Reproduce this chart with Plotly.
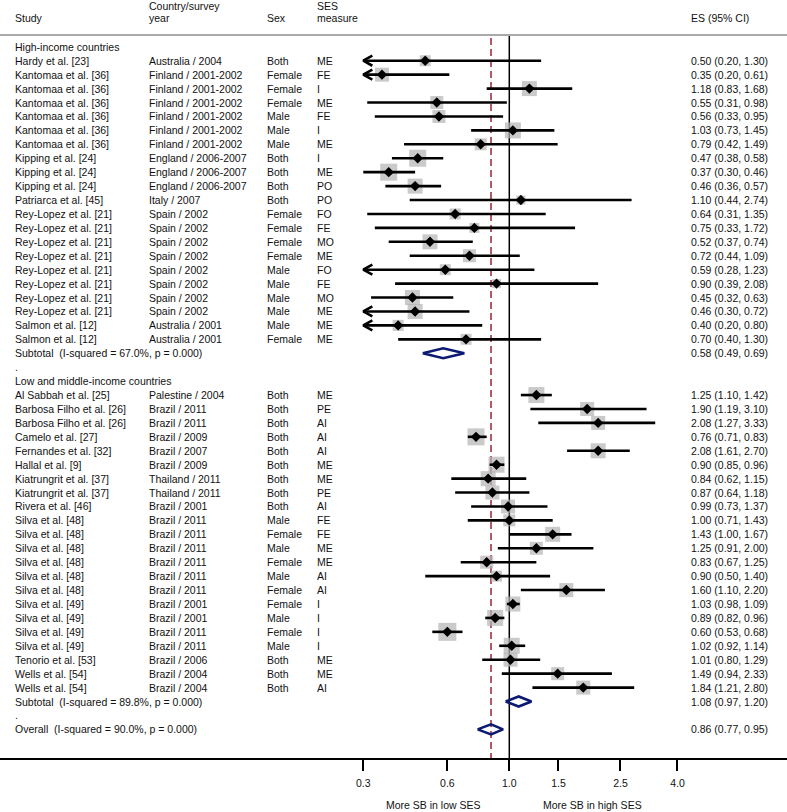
import math
import plotly.graph_objects as go

# ---------------- data ----------------
hic_study = ["Hardy et al. [23]"] + ["Kantomaa et al. [36]"] * 6 + ["Kipping et al. [24]"] * 3 + \
    ["Patriarca et al. [45]"] + ["Rey-Lopez et al. [21]"] * 8 + ["Salmon et al. [12]"] * 2
hic_country = ["Australia / 2004"] + ["Finland / 2001-2002"] * 6 + ["England / 2006-2007"] * 3 + \
    ["Italy / 2007"] + ["Spain / 2002"] * 8 + ["Australia / 2001"] * 2
hic_sex = ["Both", "Female", "Female", "Female", "Male", "Male", "Male", "Both", "Both", "Both", "Both",
           "Female", "Female", "Female", "Female", "Male", "Male", "Male", "Male", "Male", "Female"]
hic_ses = ["ME", "FE", "I", "ME", "FE", "I", "ME", "I", "ME", "PO", "PO",
           "FO", "FE", "MO", "ME", "FO", "FE", "MO", "ME", "ME", "ME"]
hic_es = [0.50, 0.35, 1.18, 0.55, 0.56, 1.03, 0.79, 0.47, 0.37, 0.46, 1.10,
          0.64, 0.75, 0.52, 0.72, 0.59, 0.90, 0.45, 0.46, 0.40, 0.70]
hic_lo = [0.20, 0.20, 0.83, 0.31, 0.33, 0.73, 0.42, 0.38, 0.30, 0.36, 0.44,
          0.31, 0.33, 0.37, 0.44, 0.28, 0.39, 0.32, 0.297, 0.20, 0.40]
hic_hi = [1.30, 0.61, 1.68, 0.98, 0.95, 1.45, 1.49, 0.58, 0.46, 0.57, 2.74,
          1.35, 1.72, 0.74, 1.09, 1.23, 2.08, 0.63, 0.72, 0.80, 1.30]
hic_w = [11, 14, 15, 13, 13, 16, 12, 17, 17, 15, 9,
         11, 10, 15, 13, 11, 9, 15, 15, 11, 11]
hic_sub = ("Subtotal  (I-squared = 67.0%, p = 0.000)", 0.58, 0.49, 0.69)

lmic_study = ["Al Sabbah et al. [25]", "Barbosa Filho et al. [26]", "Barbosa Filho et al. [26]",
              "Camelo et al. [27]", "Fernandes et al. [32]", "Hallal et al. [9]",
              "Kiatrungrit et al. [37]", "Kiatrungrit et al. [37]", "Rivera et al. [46]"] + \
    ["Silva et al. [48]"] * 6 + ["Silva et al. [49]"] * 4 + \
    ["Tenorio et al. [53]", "Wells et al. [54]", "Wells et al. [54]"]
lmic_country = ["Palestine / 2004", "Brazil / 2011", "Brazil / 2011", "Brazil / 2009", "Brazil / 2007",
                "Brazil / 2009", "Thailand / 2011", "Thailand / 2011", "Brazil / 2001"] + \
    ["Brazil / 2011"] * 6 + ["Brazil / 2001", "Brazil / 2001", "Brazil / 2011", "Brazil / 2011"] + \
    ["Brazil / 2006", "Brazil / 2004", "Brazil / 2004"]
lmic_sex = ["Both"] * 9 + ["Male", "Female", "Male", "Female", "Male", "Female",
                           "Female", "Male", "Female", "Male", "Both", "Both", "Both"]
lmic_ses = ["ME", "PE", "AI", "AI", "AI", "ME", "ME", "PE", "AI",
            "FE", "FE", "ME", "ME", "AI", "AI", "I", "I", "I", "I", "ME", "ME", "AI"]
lmic_es = [1.25, 1.90, 2.08, 0.76, 2.08, 0.90, 0.84, 0.87, 0.99,
           1.00, 1.43, 1.25, 0.83, 0.90, 1.60, 1.03, 0.89, 0.60, 1.02, 1.01, 1.49, 1.84]
lmic_lo = [1.10, 1.19, 1.27, 0.71, 1.61, 0.85, 0.62, 0.64, 0.73,
           0.71, 1.00, 0.91, 0.67, 0.50, 1.10, 0.98, 0.82, 0.53, 0.92, 0.80, 0.94, 1.21]
lmic_hi = [1.42, 3.10, 3.33, 0.83, 2.70, 0.96, 1.15, 1.18, 1.37,
           1.43, 1.67, 2.00, 1.25, 1.40, 2.20, 1.09, 0.96, 0.68, 1.14, 1.29, 2.33, 2.80]
lmic_w = [16, 14, 14, 17, 15, 16, 15, 14, 14,
          12, 15, 13, 13, 11, 14, 15, 16, 18, 16, 14, 13, 14]
lmic_sub = ("Subtotal  (I-squared = 89.8%, p = 0.000)", 1.08, 0.97, 1.20)
overall = ("Overall  (I-squared = 90.0%, p = 0.000)", 0.86, 0.77, 0.95)

header_study = "Study"
header_country = ["Country/survey", "year"]
header_sex = "Sex"
header_ses = ["SES", "measure"]
header_es = "ES (95% CI)"
group_labels = ["High-income countries", "Low and middle-income countries"]
tick_vals = [0.3, 0.6, 1.0, 1.5, 2.5, 4.0]
tick_text = ["0.3", "0.6", "1.0", "1.5", "2.5", "4.0"]
clip_min = 0.3
label_low = "More SB in low SES"
label_high = "More SB in high SES"

# ---------------- layout constants ----------------
W, H = 787, 812
FONT = "Liberation Sans, Arial, sans-serif"
FS = 10.5
X_STUDY, X_COUNTRY, X_SEX, X_SES, X_ES = 13, 147, 265, 315, 689
ROW_Y0, ROW_DY = 46.8, 13.93
AXIS_PX = 758


def px2row(py):
    return (py - ROW_Y0) / ROW_DY


# row assignment
rows = []  # (row_index, study, country, sex, ses, es, lo, hi, w)
r = 1
for i in range(len(hic_es)):
    rows.append((r, hic_study[i], hic_country[i], hic_sex[i], hic_ses[i], hic_es[i], hic_lo[i], hic_hi[i], hic_w[i]))
    r += 1
sub1_row = r
r += 2
grp2_row = r
r += 1
for i in range(len(lmic_es)):
    rows.append((r, lmic_study[i], lmic_country[i], lmic_sex[i], lmic_ses[i], lmic_es[i], lmic_lo[i], lmic_hi[i], lmic_w[i]))
    r += 1
sub2_row = r
overall_row = r + 2

fig = go.Figure()

# CI lines
cx, cy = [], []
ax_, ay_ = [], []
for (ri, s, c, sx, ses, es, lo, hi, w) in rows:
    left = max(lo, clip_min)
    cx += [left, hi, None]
    cy += [ri, ri, None]
    if lo < clip_min:
        k = math.exp(0.075)
        ax_ += [clip_min * k, clip_min, clip_min * k, None]
        ay_ += [ri - 0.36, ri, ri + 0.36, None]

# squares
fig.add_trace(go.Scatter(
    x=[rw[5] for rw in rows], y=[rw[0] for rw in rows], mode="markers",
    marker=dict(symbol="square", size=[rw[8] for rw in rows], color="#b3b3b3", line=dict(width=0)),
    hoverinfo="skip", showlegend=False))
fig.add_trace(go.Scatter(x=cx, y=cy, mode="lines", line=dict(color="black", width=2.6),
                         hoverinfo="skip", showlegend=False))
fig.add_trace(go.Scatter(x=ax_, y=ay_, mode="lines", line=dict(color="black", width=2.6),
                         hoverinfo="skip", showlegend=False))
fig.add_trace(go.Scatter(
    x=[rw[5] for rw in rows], y=[rw[0] for rw in rows], mode="markers",
    marker=dict(symbol="diamond", size=8, color="black"),
    hoverinfo="skip", showlegend=False))

# pooled diamonds
dx, dy = [], []
for (lab, es, lo, hi), ri in [(hic_sub, sub1_row), (lmic_sub, sub2_row), (overall, overall_row)]:
    dx += [lo, es, hi, es, lo, None]
    dy += [ri, ri - 0.36, ri, ri + 0.36, ri, None]
fig.add_trace(go.Scatter(x=dx, y=dy, mode="lines", line=dict(color="#0c1a73", width=2.6),
                         hoverinfo="skip", showlegend=False))

# reference lines
y_top_solid = px2row(35)
y_top_dash = px2row(38)
y_bot = px2row(AXIS_PX)
fig.add_shape(type="line", xref="x", yref="y", x0=1.0, x1=1.0, y0=y_top_solid, y1=y_bot,
              line=dict(color="black", width=1.5), layer="below")
fig.add_shape(type="line", xref="x", yref="y", x0=overall[1], x1=overall[1], y0=y_top_dash, y1=y_bot,
              line=dict(color="#9b2335", width=1.5, dash="7px,4px"), layer="below")
# header separator
fig.add_shape(type="line", xref="paper", yref="paper", x0=0, x1=1,
              y0=1 - 35 / AXIS_PX, y1=1 - 35 / AXIS_PX,
              line=dict(color="#a9a9a9", width=2), layer="above")


def txt(xpx, yrow, s, anchor="left"):
    fig.add_annotation(x=xpx / W, xref="paper", y=yrow, yref="y", text=s, showarrow=False,
                       xanchor=anchor, yanchor="middle", font=dict(family=FONT, size=FS, color="#111"))


# headers
yh1, yh2 = px2row(6), px2row(18)
txt(X_STUDY, yh2, header_study)
txt(X_COUNTRY, yh1, header_country[0])
txt(X_COUNTRY, yh2, header_country[1])
txt(X_SEX, yh2, header_sex)
txt(X_SES, yh1, header_ses[0])
txt(X_SES, yh2, header_ses[1])
txt(X_ES, yh2, header_es)

txt(X_STUDY, 0, group_labels[0])
txt(X_STUDY, grp2_row, group_labels[1])
for (ri, s, c, sx, ses, es, lo, hi, w) in rows:
    txt(X_STUDY, ri, s)
    txt(X_COUNTRY, ri, c)
    txt(X_SEX, ri, sx)
    txt(X_SES, ri, ses)
    txt(X_ES, ri, f"{es:.2f} ({lo:.2f}, {hi:.2f})")
for (lab, es, lo, hi), ri in [(hic_sub, sub1_row), (lmic_sub, sub2_row), (overall, overall_row)]:
    txt(X_STUDY, ri, lab)
    txt(X_ES, ri, f"{es:.2f} ({lo:.2f}, {hi:.2f})")
txt(X_STUDY, sub1_row + 1, ".")
txt(X_STUDY, sub2_row + 1, ".")

# bottom labels
for xc, s in [(433, label_low), (592, label_high)]:
    fig.add_annotation(x=xc / W, xref="paper", y=(AXIS_PX - 805) / AXIS_PX, yref="paper", text=s,
                       showarrow=False, xanchor="center", yanchor="middle",
                       font=dict(family=FONT, size=FS, color="#111"))

# axes
px_per_log10 = 121.3 * math.log(10)
x_left = (0 - 509.3) / px_per_log10
x_right = (W - 509.3) / px_per_log10
fig.update_xaxes(type="log", range=[x_left, x_right], tickvals=tick_vals, ticktext=tick_text,
                 ticks="outside", ticklen=11, tickwidth=2, tickcolor="black",
                 showline=True, linewidth=2, linecolor="black", showgrid=False, zeroline=False,
                 tickfont=dict(family=FONT, size=FS, color="#111"), ticklabelstandoff=3)
fig.update_yaxes(range=[px2row(AXIS_PX), px2row(0)], visible=False, showgrid=False, zeroline=False)

fig.update_layout(width=W, height=H, margin=dict(l=0, r=0, t=0, b=H - AXIS_PX),
                  plot_bgcolor="white", paper_bgcolor="white", showlegend=False)

fig.write_html("out.html", config={"displayModeBar": False, "staticPlot": True},
               post_script="document.body.style.margin='0';document.body.style.overflow='hidden';")
